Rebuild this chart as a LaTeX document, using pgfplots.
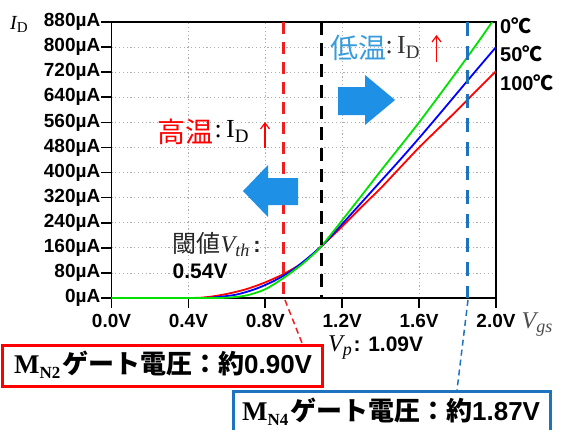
\documentclass[border=0pt]{standalone}
\usepackage{fontspec}
\setmainfont{Liberation Sans}
\newfontfamily\serif{Liberation Serif}
\newfontfamily\jp{Noto Sans CJK JP}
\usepackage{pgfplots}
\pgfplotsset{compat=1.18}
\usetikzlibrary{arrows.meta}
\definecolor{cgreen}{RGB}{0,225,0}
\definecolor{cblue}{RGB}{0,0,255}
\definecolor{cred}{RGB}{255,0,0}
\definecolor{dashred}{RGB}{240,30,30}
\definecolor{dashblue}{RGB}{30,115,190}
\definecolor{arrowblue}{RGB}{30,144,230}
\definecolor{lowblue}{RGB}{55,155,220}
\definecolor{gridgray}{RGB}{175,175,175}
\begin{document}
\begin{tikzpicture}[x=1pt,y=1pt]
\begin{axis}[
  at={(0,0)}, anchor=south west, scale only axis,
  width=384.5pt, height=276pt,
  xmin=0, xmax=2, ymin=0, ymax=880,
  xtick={0,0.4,0.8,1.2,1.6,2.0},
  xticklabels={0.0V,0.4V,0.8V,1.2V,1.6V,2.0V},
  ytick={0,80,160,240,320,400,480,560,640,720,800,880},
  yticklabels={0µA,80µA,160µA,240µA,320µA,400µA,480µA,560µA,640µA,720µA,800µA,880µA},
  grid=major,
  grid style={gridgray, line width=0.8pt, dash pattern=on 1.2pt off 2.6pt},
  axis line style={line width=1.6pt},
  tick style={line width=1.6pt, black},
  tick align=outside, major tick length=10pt,
  xtick pos=bottom, ytick pos=left,
  tick label style={font=\bfseries\fontsize{19}{19}\selectfont},
  yticklabel style={inner sep=1pt},
  xticklabel style={yshift=-3pt},
  /pgf/number format/assume math mode=true,
]
\addplot[cred, line width=1.8pt, smooth] coordinates {
(0,0) (0.4,0) (0.5,3) (0.6,13) (0.7,28) (0.8,50) (0.9,78) (1.0,115) (1.09,164)
(1.2,228) (1.3,290) (1.4,350) (1.5,415) (1.6,480) (1.7,540) (1.8,600) (1.9,662) (2.0,723)};
\addplot[cblue, line width=1.8pt, smooth] coordinates {
(0,0) (0.45,0) (0.55,3) (0.65,11) (0.75,29) (0.85,56) (0.95,93) (1.09,164)
(1.2,236) (1.3,304) (1.4,372) (1.5,440) (1.6,510) (1.7,582) (1.8,655) (1.9,728) (2.0,800)};
\addplot[cgreen, line width=1.8pt, smooth] coordinates {
(0,0) (0.5,0) (0.6,1) (0.7,8) (0.8,28) (0.9,66) (1.0,112) (1.09,164)
(1.2,248) (1.3,326) (1.4,405) (1.5,482) (1.6,560) (1.7,642) (1.8,725) (1.9,810) (1.98,880)};
\end{axis}
% vertical dashed lines
\draw[dashred, line width=3pt, dash pattern=on 12pt off 8pt] (171.9,276) -- (171.9,0);
\draw[black, line width=3pt, dash pattern=on 13pt off 8pt] (209.6,276) -- (209.6,0);
\draw[dashblue, line width=3pt, dash pattern=on 14pt off 10pt] (356.2,276) -- (356.2,0);
\draw[dashred, line width=1.5pt, dash pattern=on 6pt off 4pt] (173.5,-2) -- (190.5,-45);
\draw[dashblue, line width=1.5pt, dash pattern=on 6pt off 4pt] (356.5,-2) -- (345.5,-92);
% big arrows
\fill[arrowblue] (226.5,211) -- (253.5,211) -- (253.5,223) -- (283.5,198) -- (253.5,173) -- (253.5,183) -- (226.5,183) -- cycle;
\fill[arrowblue] (186.5,120) -- (156.5,120) -- (156.5,133) -- (131.5,107) -- (156.5,81) -- (156.5,93) -- (186.5,93) -- cycle;
% texts
\node[anchor=west, inner sep=0, text=cred] at (45.5,166) {\jp\fontsize{28}{28}\selectfont 高温};
\node[anchor=west, inner sep=0] at (103,166) {\serif\fontsize{26}{26}\selectfont :\,I\raisebox{-5pt}{\fontsize{19}{19}\selectfont D}};
\draw[cred, line width=1.2pt, -{Straight Barb[length=6pt,width=9pt]}] (153.5,150) -- (153.5,176);
\node[anchor=west, inner sep=0, text=lowblue] at (218.5,250.5) {\jp\fontsize{28}{28}\selectfont 低温};
\node[anchor=west, inner sep=0, text=black!80] at (274,250.5) {\serif\fontsize{26}{26}\selectfont :\,I\raisebox{-5pt}{\fontsize{19}{19}\selectfont D}};
\draw[cred, line width=1.2pt, -{Straight Barb[length=6pt,width=9pt]}] (325,236) -- (325,263);
\node[anchor=west, inner sep=0, text=black!85] at (61,53) {\jp\fontsize{24}{24}\selectfont 閾値{\serif\itshape\fontsize{24}{24}\selectfont V\raisebox{-4pt}{\fontsize{18}{18}\selectfont th}}\,{\normalfont\bfseries\fontsize{22}{22}\selectfont :}};
\node[anchor=west, inner sep=0] at (61,26.5) {\bfseries\fontsize{21}{21}\selectfont 0.54V};
\node[anchor=west, inner sep=0] at (388.5,272) {\bfseries\fontsize{20}{20}\selectfont 0{\jp\bfseries ℃}};
\node[anchor=west, inner sep=0] at (388.5,244) {\bfseries\fontsize{20}{20}\selectfont 50{\jp\bfseries ℃}};
\node[anchor=west, inner sep=0] at (388.5,215.5) {\bfseries\fontsize{20}{20}\selectfont 100{\jp\bfseries ℃}};
% axis labels
\node[anchor=west, inner sep=0] at (-101.5,274) {\serif\itshape\fontsize{20}{20}\selectfont I\raisebox{-3pt}{\upshape\fontsize{15}{15}\selectfont D}};
\node[anchor=west, inner sep=0, text=black!70] at (410,-27) {\serif\itshape\fontsize{24}{24}\selectfont V\raisebox{-4pt}{\fontsize{18}{18}\selectfont gs}};
\node[anchor=west, inner sep=0] at (216.5,-50) {{\serif\itshape\fontsize{24}{24}\selectfont V\raisebox{-4pt}{\fontsize{18}{18}\selectfont p}}\,\bfseries\fontsize{21}{21}\selectfont : 1.09V};
% boxes
\draw[cred, line width=3pt, fill=white] (-108.5,-47) rectangle (210.5,-88);
\node[anchor=west, inner sep=0] at (-97.5,-67) {{\serif\bfseries\fontsize{27}{27}\selectfont M\raisebox{-5pt}{\fontsize{17}{17}\selectfont N2}}\,{\jp\bfseries\fontsize{26}{26}\selectfont ゲート電圧：約}{\bfseries\fontsize{26}{26}\selectfont 0.90V}};
\draw[dashblue, line width=3pt, fill=white] (121.5,-93) rectangle (438.5,-136);
\node[anchor=west, inner sep=0] at (130.5,-114) {{\serif\bfseries\fontsize{27}{27}\selectfont M\raisebox{-5pt}{\fontsize{17}{17}\selectfont N4}}\,{\jp\bfseries\fontsize{26}{26}\selectfont ゲート電圧：約}{\bfseries\fontsize{26}{26}\selectfont 1.87V}};
\pgfresetboundingbox
\path (-111.5,-131) rectangle (450.5,298);
\end{tikzpicture}
\end{document}
